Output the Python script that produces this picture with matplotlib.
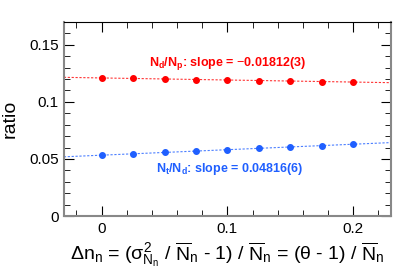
import numpy as np
import matplotlib
matplotlib.use("Agg")
import matplotlib.pyplot as plt
from matplotlib.ticker import MultipleLocator

plt.rcParams['font.family'] = ['Liberation Sans', 'DejaVu Sans']
plt.rcParams['mathtext.fontset'] = 'custom'
plt.rcParams['mathtext.rm'] = 'Liberation Sans'
plt.rcParams['mathtext.it'] = 'Liberation Sans'
plt.rcParams['mathtext.bf'] = 'Liberation Sans:bold'

# Data
dn = [0.0, 0.025, 0.05, 0.075, 0.1, 0.125, 0.15, 0.175, 0.2]
ratio_dp = [0.1210, 0.1205, 0.1201, 0.1196, 0.1192, 0.1187, 0.1183, 0.1178, 0.1174]
ratio_td = [0.0533, 0.0545, 0.0557, 0.0569, 0.0581, 0.0593, 0.0605, 0.0617, 0.0629]
label_dp = r'N$_\mathbf{d}$/N$_\mathbf{p}$: slope = $-$0.01812(3)'
label_td = r'N$_\mathbf{t}$/N$_\mathbf{d}$: slope = 0.04816(6)'

red = '#ff0000'
blue = '#1f5fff'

fig = plt.figure(figsize=(3.99, 2.70), dpi=100)
ax = fig.add_axes([0.160, 0.200, 0.820, 0.7185])

xfit = np.linspace(-0.03, 0.23, 50)
for y, c in [(ratio_dp, red), (ratio_td, blue)]:
    p = np.polyfit(dn, y, 1)
    ax.plot(xfit, np.polyval(p, xfit), ls=(0, (2, 1.5)), lw=0.8, color=c, alpha=0.8)
    ax.plot(dn, y, 'o', ms=4, color=c)

ax.text(0.038, 0.1335, label_dp, color=red, fontsize=9, fontweight='bold', ha='left', va='center')
ax.text(0.043, 0.0415, label_td, color=blue, fontsize=9, fontweight='bold', ha='left', va='center')

ax.set_xlim(-0.03, 0.23)
ax.set_ylim(0, 0.17)
ax.xaxis.set_minor_locator(MultipleLocator(0.02))
ax.yaxis.set_minor_locator(MultipleLocator(0.01))
ax.set_xticks([0, 0.1, 0.2])
ax.set_xticklabels(['0', '0.1', '0.2'])
ax.set_yticks([0, 0.05, 0.1, 0.15])
ax.set_yticklabels(['0', '0.05', '0.1', '0.15'])
ax.tick_params(which='both', direction='in', top=True, right=True, labelsize=11)
ax.tick_params(which='major', length=7)
ax.tick_params(which='minor', length=4)
ax.tick_params(axis='x', pad=4)

for s in ['left', 'bottom', 'right']:
    ax.spines[s].set_color('#888888')
    ax.spines[s].set_linewidth(1.5)

ax.set_ylabel('ratio', fontsize=14, labelpad=8)
ax.set_xlabel(r'$\Delta$n$_\mathregular{n}$ = ($\sigma^2_{\mathregular{N_n}}$ / $\overline{\mathregular{N}}_\mathregular{n}$ - 1) / $\overline{\mathregular{N}}_\mathregular{n}$ = ($\theta$ - 1) / $\overline{\mathregular{N}}_\mathregular{n}$',
              fontsize=14, labelpad=3)

fig.savefig('out.png', dpi=100)
